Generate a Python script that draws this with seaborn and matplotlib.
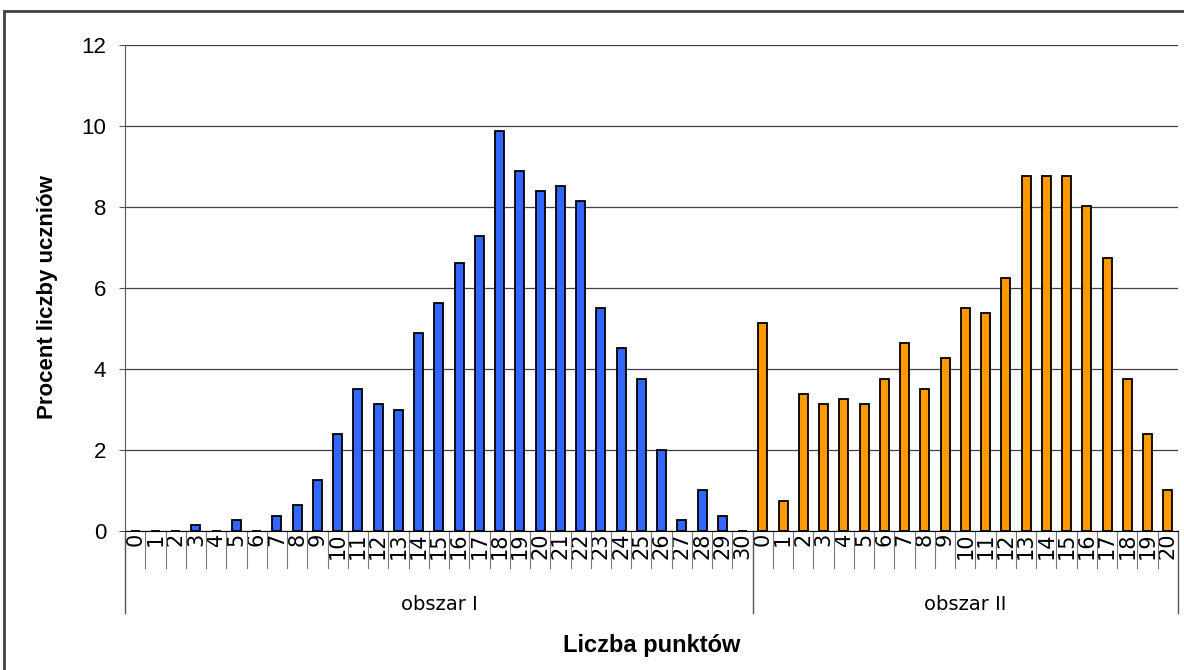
import matplotlib
matplotlib.use("Agg")
import matplotlib.pyplot as plt
from matplotlib.patches import Rectangle
import pandas as pd
import seaborn as sns

# ==========================================
# Data
# ==========================================

points_area1 = list(range(0, 31))
percent_area1 = [0, 0, 0, 0.13, 0, 0.25, 0, 0.37, 0.62, 1.24,
                 2.39, 3.49, 3.12, 2.99, 4.88, 5.62, 6.6, 7.28, 9.87, 8.88,
                 8.4, 8.51, 8.14, 5.5, 4.51, 3.74, 1.98, 0.25, 0.99, 0.37,
                 0]

points_area2 = list(range(0, 21))
percent_area2 = [5.13, 0.74, 3.37, 3.12, 3.24, 3.12, 3.74, 4.64, 3.49, 4.26,
                 5.5, 5.37, 6.24, 8.76, 8.76, 8.76, 8.02, 6.74, 3.74, 2.39,
                 0.99]

group_names = ["obszar I", "obszar II"]
group_colors = ["#3366FF", "#FF9900"]

# ==========================================
# Build table
# ==========================================

data = pd.DataFrame({
    "key": [f"I-{p}" for p in points_area1] + [f"II-{p}" for p in points_area2],
    "label": [str(p) for p in points_area1] + [str(p) for p in points_area2],
    "percent": percent_area1 + percent_area2,
    "group": [group_names[0]] * len(points_area1) + [group_names[1]] * len(points_area2),
})

n1 = len(points_area1)
n_all = len(data)

fig = plt.figure(figsize=(11.84, 6.70), dpi=100)
ax = fig.add_axes([0.1056, 0.2082, 0.8893, 0.7246])

sns.barplot(
    data=data,
    x="key",
    y="percent",
    hue="group",
    palette=dict(zip(group_names, group_colors)),
    saturation=1,
    dodge=False,
    width=0.45,
    edgecolor="black",
    linewidth=1.3,
    legend=False,
    ax=ax,
)

# axes styling
ax.set_xlim(-0.5, n_all - 0.5)
ax.set_ylim(0, 12)
ax.set_yticks(range(0, 13, 2))
ax.yaxis.grid(True, color="#404040", linewidth=0.9)
ax.set_axisbelow(True)

for side in ["top", "right"]:
    ax.spines[side].set_visible(False)
ax.spines["left"].set_color("#555555")
ax.spines["bottom"].set_color("black")

ax.tick_params(axis="y", length=4.5, color="#555555", labelsize=16, pad=9)
for t in ax.get_yticklabels():
    t.set_fontfamily("Liberation Sans")

ax.set_xticks(range(n_all))
ax.set_xticklabels(data["label"], rotation=90, fontsize=15,
                   fontfamily="DejaVu Sans")
ax.tick_params(axis="x", length=0, pad=1.5)

ax.set_xlabel("")
ax.set_ylabel("Procent liczby uczniów", fontsize=16, fontweight="bold",
              fontfamily="Liberation Sans")
ax.yaxis.set_label_coords(-0.0636, 0.48)

# category separators below the axis
trans = ax.get_xaxis_transform()
for k in range(n_all + 1):
    if k in (0, n1, n_all):
        ax.plot([k - 0.5, k - 0.5], [0, -0.169], transform=trans,
                color="#555555", linewidth=1, clip_on=False)
    else:
        ax.plot([k - 0.5, k - 0.5], [0, -0.078], transform=trans,
                color="#777777", linewidth=0.8, clip_on=False)

# group labels
ax.text((n1 - 1) / 2, -0.152, group_names[0], transform=trans,
        ha="center", va="center", fontsize=14, fontfamily="DejaVu Sans")
ax.text(n1 + (n_all - n1 - 1) / 2, -0.152, group_names[1], transform=trans,
        ha="center", va="center", fontsize=14, fontfamily="DejaVu Sans")

ax.text(0.5, -(645 - 530) / 485.5, "Liczba punktów", transform=ax.transAxes,
        ha="center", va="center", fontsize=17, fontweight="bold",
        fontfamily="Liberation Sans")

# outer frame
fig.patches.append(Rectangle((4 / 1184, -0.05), 1.2, 0.05 + 1 - 11 / 670,
                             transform=fig.transFigure, fill=False,
                             edgecolor="#404040", linewidth=2))

fig.savefig("out.png", dpi=100)
